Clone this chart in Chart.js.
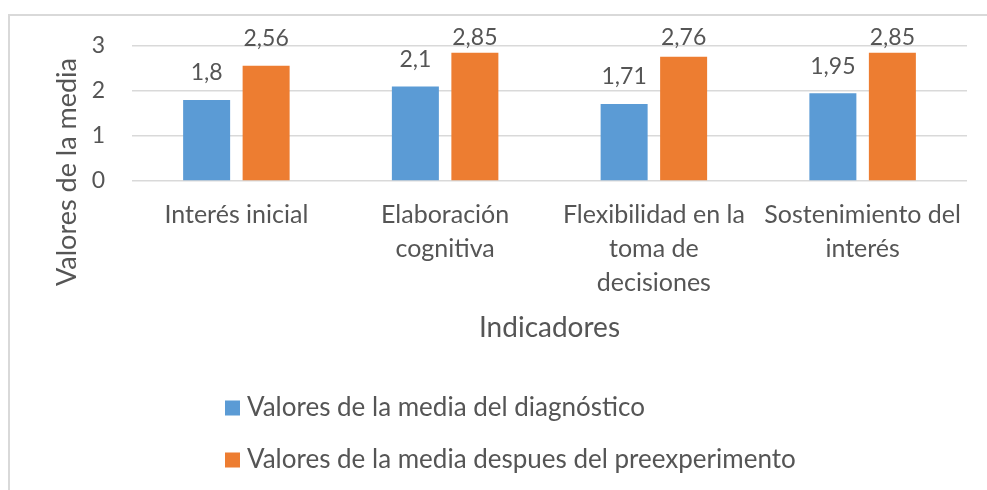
<!DOCTYPE html>
<html>
<head>
<meta charset="utf-8">
<script src="https://cdn.jsdelivr.net/npm/chart.js@4.4.1/dist/chart.umd.min.js"></script>
<style>
  html, body { margin: 0; padding: 0; background: #fff; }
  #wrap { position: relative; width: 987px; height: 490px; overflow: hidden; }
  #frame { position: absolute; left: 8px; top: 14px; width: 1100px; height: 600px;
           border-left: 2px solid #d9d9d9; border-top: 2px solid #d9d9d9; }
  canvas { position: absolute; left: 0; top: 0; }
</style>
</head>
<body>
<div id="wrap">
  <div id="frame"></div>
  <canvas id="grafico" width="987" height="490"></canvas>
</div>
<script>
// indicadores y medias
const categorias = [
  ['Interés inicial'],
  ['Elaboración', 'cognitiva'],
  ['Flexibilidad en la', 'toma de', 'decisiones'],
  ['Sostenimiento del', 'interés']
];
const mediaDiagnostico = [1.8, 2.1, 1.71, 1.95];
const mediaDespues = [2.56, 2.85, 2.76, 2.85];
const nombresSeries = ['Valores de la media del diagnóstico', 'Valores de la media despues del preexperimento'];
const ticksY = [0, 1, 2, 3];

const FUENTE = 'Lato, "Open Sans", sans-serif';
const GRIS = '#555555';

const fmt = v => String(v).replace('.', ',');

// etiquetas de valor sobre cada barra
const etiquetasValor = {
  id: 'etiquetasValor',
  afterDatasetsDraw(chart) {
    const ctx = chart.ctx;
    ctx.save();
    ctx.font = '23px ' + FUENTE;
    ctx.fillStyle = GRIS;
    ctx.textAlign = 'center';
    ctx.textBaseline = 'middle';
    chart.data.datasets.forEach((ds, i) => {
      chart.getDatasetMeta(i).data.forEach((bar, j) => {
        const y = Math.max(bar.y - 27, 38);
        ctx.fillText(fmt(ds.data[j]), bar.x, y);
      });
    });
    ctx.restore();
  }
};

// título del eje Y y leyenda vertical
const extras = {
  id: 'extras',
  afterDraw(chart) {
    const ctx = chart.ctx;
    ctx.save();
    ctx.fillStyle = GRIS;
    ctx.font = '27px ' + FUENTE;
    ctx.translate(67, 172);
    ctx.rotate(-Math.PI / 2);
    ctx.textAlign = 'center';
    ctx.textBaseline = 'middle';
    ctx.fillText('Valores de la media', 0, 0);
    ctx.restore();

    ctx.save();
    ctx.font = '26px ' + FUENTE;
    ctx.textBaseline = 'middle';
    chart.data.datasets.forEach((ds, i) => {
      const y = 408 + i * 52;
      ctx.fillStyle = ds.backgroundColor;
      ctx.fillRect(225, y - 7.5, 15, 15);
      ctx.fillStyle = GRIS;
      ctx.fillText(ds.label, 247, y);
    });
    ctx.restore();
  }
};

new Chart(document.getElementById('grafico'), {
  type: 'bar',
  data: {
    labels: categorias,
    datasets: [
      { label: nombresSeries[0], data: mediaDiagnostico, backgroundColor: '#5b9bd5' },
      { label: nombresSeries[1], data: mediaDespues, backgroundColor: '#ed7d31' }
    ]
  },
  options: {
    responsive: false,
    animation: false,
    layout: { padding: { top: 46, right: 20, bottom: 145, left: 0 } },
    datasets: { bar: { categoryPercentage: 0.57, barPercentage: 0.79 } },
    plugins: { legend: { display: false }, tooltip: { enabled: false } },
    scales: {
      x: {
        grid: { display: false, drawTicks: false },
        border: { display: false },
        ticks: { color: GRIS, font: { family: FUENTE, size: 25, lineHeight: 1.36 }, padding: 17,
                 maxRotation: 0, minRotation: 0, autoSkip: false },
        title: { display: true, text: 'Indicadores', color: GRIS,
                 font: { family: FUENTE, size: 28 }, padding: 0 },
        afterFit(s) { s.height = 164; }
      },
      y: {
        min: 0, max: 3,
        grid: { color: '#d9d9d9', lineWidth: 1.5, drawTicks: false },
        border: { display: false },
        afterBuildTicks(s) { s.ticks = ticksY.map(v => ({ value: v })); },
        ticks: { color: GRIS, font: { family: FUENTE, size: 23 }, padding: 27 },
        afterFit(s) { s.width = 132; }
      }
    }
  },
  plugins: [etiquetasValor, extras]
});
</script>
</body>
</html>
